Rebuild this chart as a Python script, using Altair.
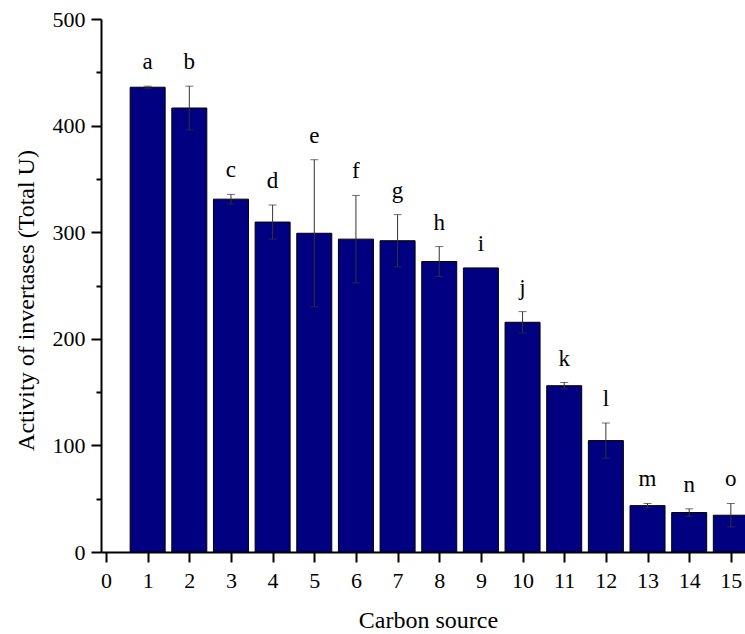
import altair as alt
import pandas as pd

carbon = list(range(1, 16))
activity = [436, 416.5, 331, 309.5, 299, 293.5, 292, 272.5, 266.5, 215.5, 156, 104.5, 43.5, 37, 34.5]
error = [1, 20.5, 4.5, 16, 69, 41, 24.5, 14, 0, 10, 3, 16.5, 2, 3.5, 11]
letters = list("abcdefghijklmno")
x_ticks = list(range(0, 16))
y_ticks = list(range(0, 501, 50))

df = pd.DataFrame({"source": carbon, "activity": activity, "err": error, "letter": letters})

FONT = "'Liberation Serif', 'Times New Roman', serif"
xscale = alt.Scale(domain=[0, 15.22], nice=False, zero=False)
yscale = alt.Scale(domain=[0, 500], nice=False)

base = alt.Chart(df).transform_calculate(
    lo="datum.activity - datum.err", hi="datum.activity + datum.err"
)

x_enc = alt.X(
    "source:Q", scale=xscale,
    axis=alt.Axis(values=x_ticks, title="Carbon source", tickSize=10, labelPadding=8,
                  titlePadding=17, titleX=327, labelFlush=False),
)
y_enc = alt.Y(
    "activity:Q", scale=yscale,
    axis=alt.Axis(values=y_ticks, title="Activity of invertases (Total U)",
                  tickSize={"condition": {"test": "datum.value % 100 === 0", "value": 10}, "value": 5},
                  labelExpr="datum.value % 100 === 0 ? datum.label : ''",
                  labelPadding=6, titlePadding=14, titleY=281, labelFlush=False),
)

bars = base.mark_bar(size=35, color="#000080", stroke="black", strokeWidth=1, clip=True).encode(
    x=x_enc, y=y_enc
)

rules = base.transform_filter("datum.err > 0").mark_rule(color="#333333", strokeWidth=1).encode(
    x="source:Q", y="lo:Q", y2="hi:Q"
)
caps_hi = base.transform_filter("datum.err > 0").mark_tick(
    orient="horizontal", size=8, thickness=1, color="#333333"
).encode(x="source:Q", y="hi:Q")
caps_lo = base.transform_filter("datum.err > 0").mark_tick(
    orient="horizontal", size=8, thickness=1, color="#333333"
).encode(x="source:Q", y="lo:Q")

labels = base.mark_text(font=FONT, fontSize=23, dy=-17, baseline="alphabetic", color="black").encode(
    x="source:Q", y="hi:Q", text="letter:N"
)

chart = alt.layer(bars, rules, caps_hi, caps_lo, labels).properties(
    width=644, height=533,
    autosize=alt.AutoSizeParams(type="none"),
    padding={"left": 101, "top": 19, "right": 0, "bottom": 82},
).configure_view(stroke=None).configure_axis(
    grid=False, domainColor="black", domainWidth=2, tickColor="black", tickWidth=2,
    labelFont=FONT, labelFontSize=22, labelColor="black",
    titleFont=FONT, titleFontSize=24, titleFontWeight="normal", titleColor="black",
)

chart.save("out.html", embed_options={"renderer": "svg", "actions": False})
